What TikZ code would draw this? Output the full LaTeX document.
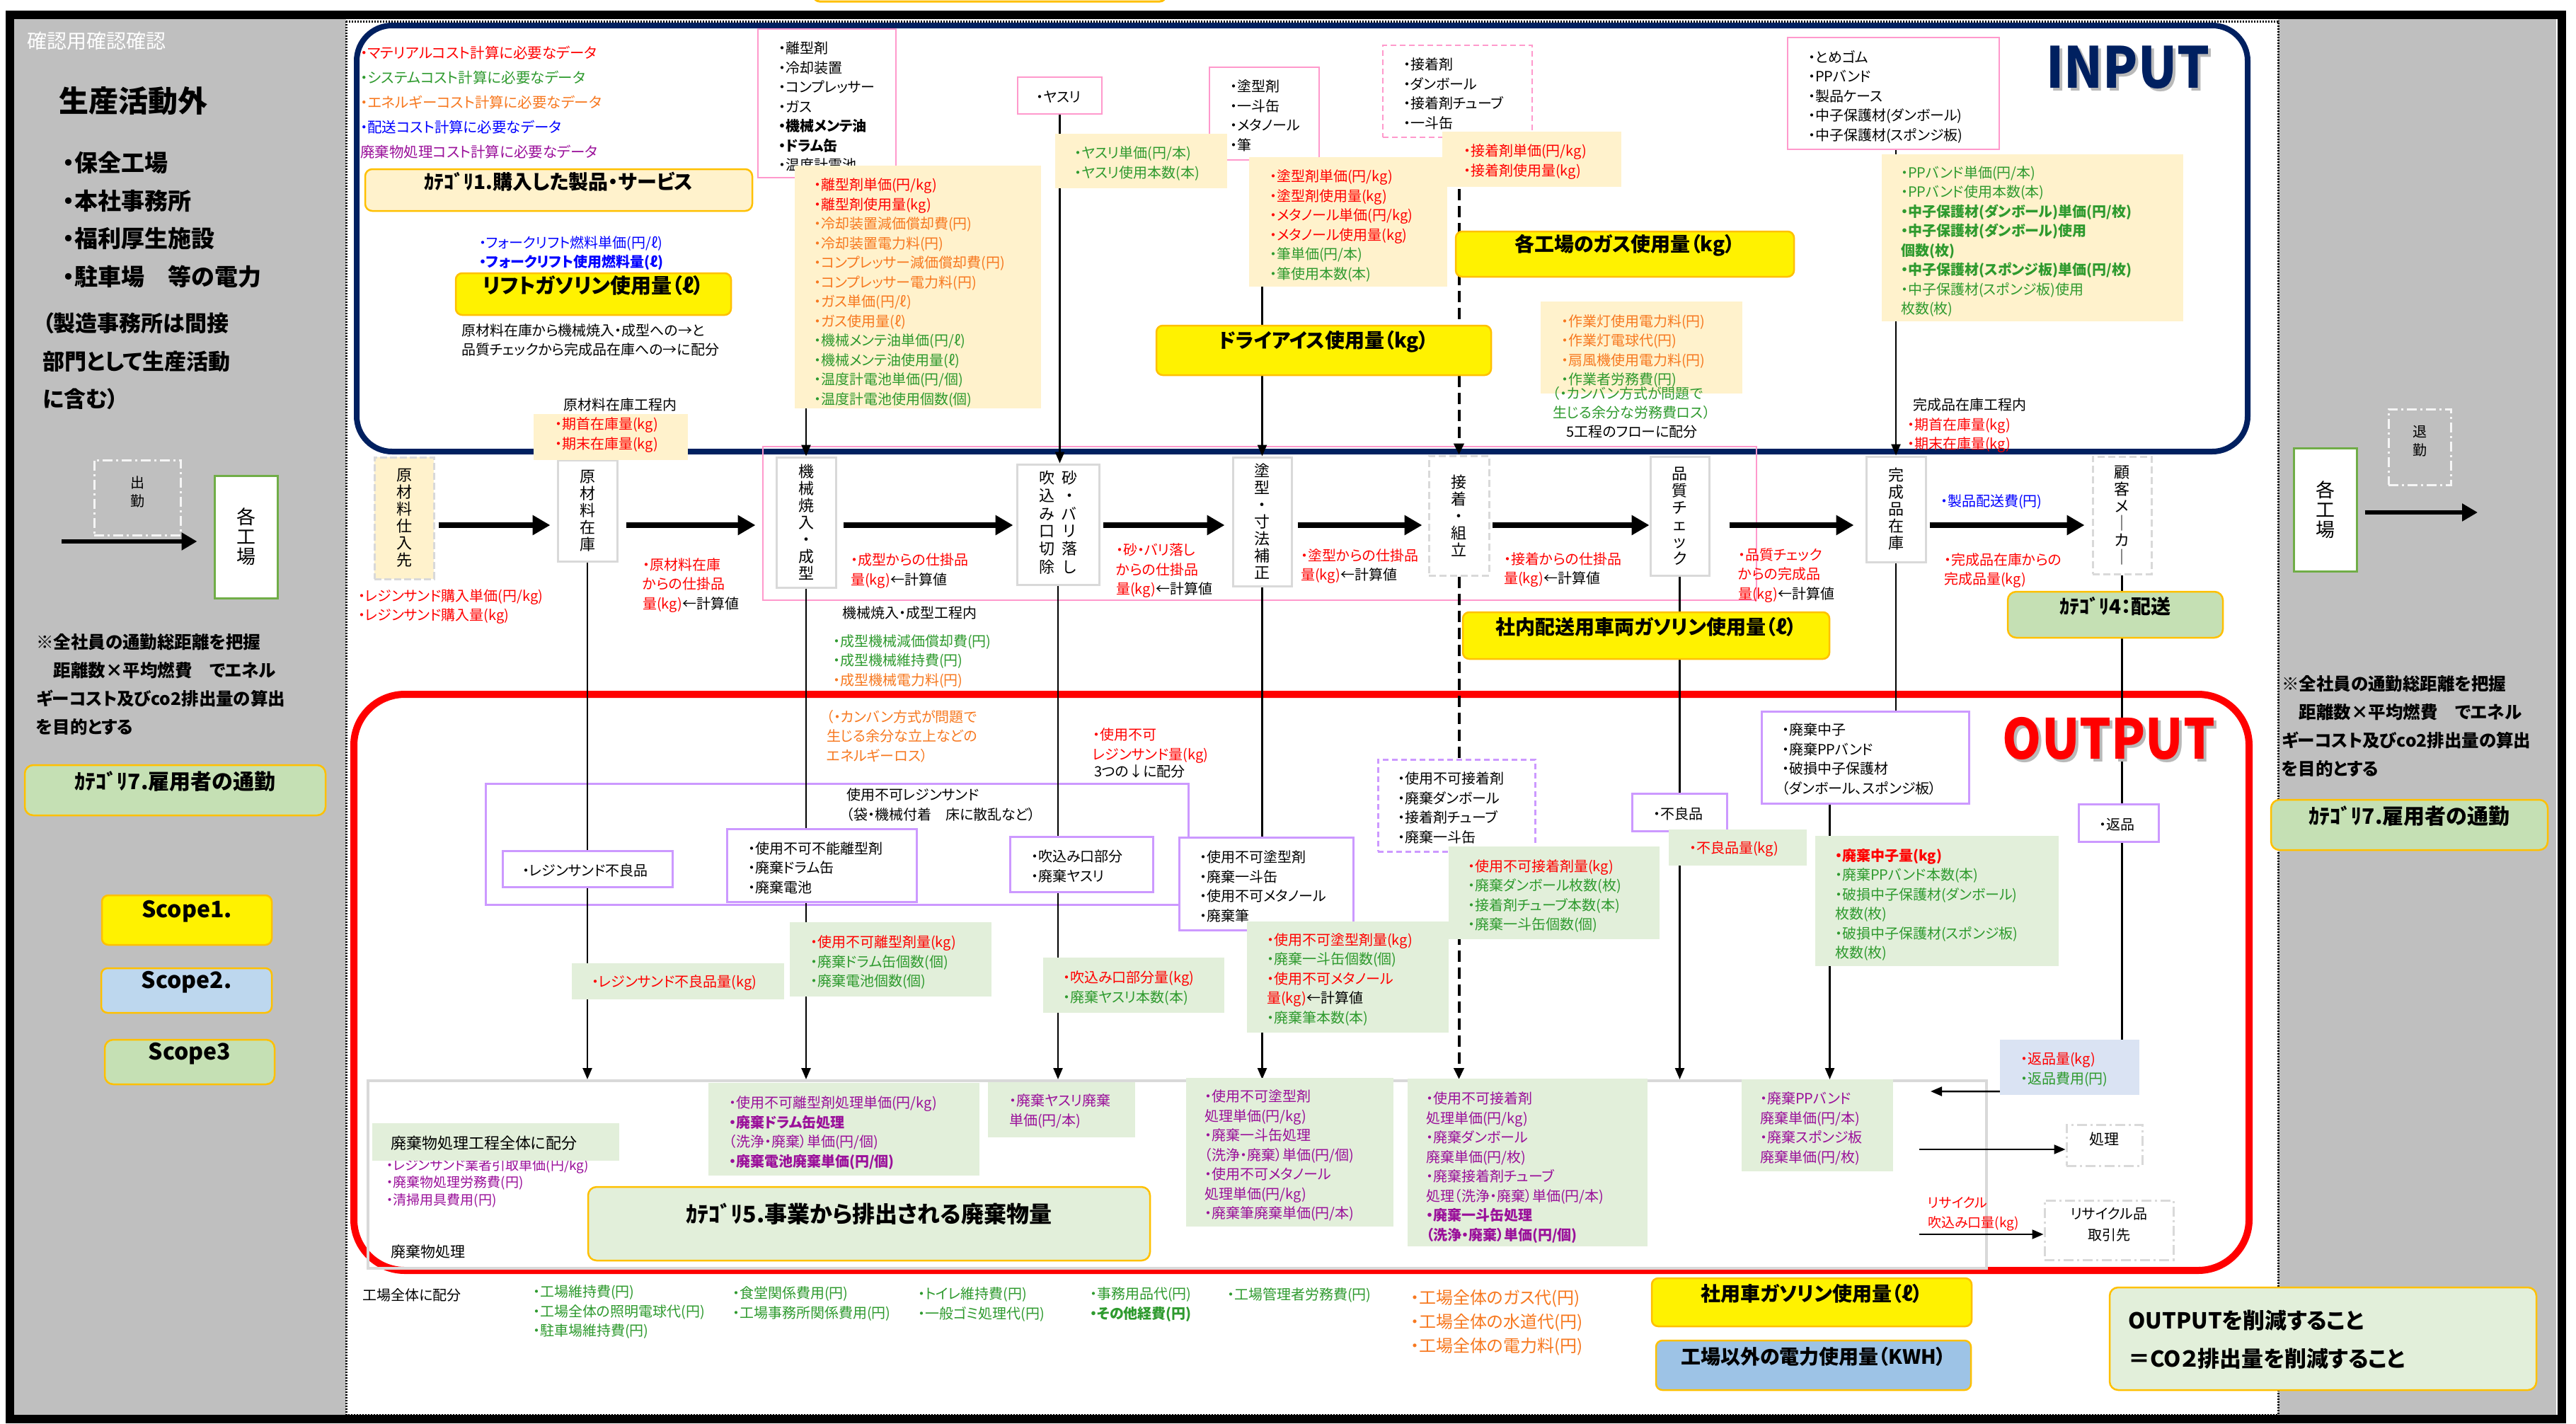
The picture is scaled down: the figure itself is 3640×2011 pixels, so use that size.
\documentclass[tikz,border=0pt]{standalone}
\usepackage{fontspec}
\setmainfont{Noto Sans CJK JP}[RawFeature=+palt]
\usetikzlibrary{arrows.meta,fit}
\definecolor{navy}{HTML}{002060}
\definecolor{panel}{HTML}{BFBFBF}
\definecolor{lyel}{HTML}{FFF2CC}
\definecolor{ybord}{HTML}{FFC000}
\definecolor{lgreen}{HTML}{E2EFDA}
\definecolor{cgreen}{HTML}{C5E0B4}
\definecolor{kgreen}{HTML}{70AD47}
\definecolor{lblue}{HTML}{BDD7EE}
\definecolor{mblue}{HTML}{9DC3E6}
\definecolor{pblue}{HTML}{DAE3F3}
\definecolor{pinkb}{HTML}{FF99CC}
\definecolor{purpb}{HTML}{CC99FF}
\definecolor{lgray}{HTML}{D9D9D9}
\definecolor{tred}{HTML}{FF0000}
\definecolor{tgreen}{HTML}{2E9A2E}
\definecolor{torange}{HTML}{F7781F}
\definecolor{tblue}{HTML}{0000FF}
\definecolor{tpurple}{HTML}{9A109A}
\newcommand\txr[1]{\textcolor{tred}{#1}}
\newcommand\txg[1]{\textcolor{tgreen}{#1}}
\newcommand\txo[1]{\textcolor{torange}{#1}}
\newcommand\txk[1]{\textcolor{black}{#1}}
\tikzset{
  txt/.style={anchor=west,inner sep=0pt,align=left,font=\fontsize{20}{27.5}\selectfont},
  ttl/.style={inner sep=0pt,align=center,font=\fontsize{28}{30}\selectfont\bfseries},
  pinkbox/.style={draw=pinkb,line width=2.5pt,fill=white,inner sep=0pt},
  databox/.style={fill=lyel,inner sep=0pt},
  greenbox/.style={fill=lgreen,inner sep=0pt},
  wastebox/.style={draw=purpb,line width=3pt,fill=white,inner sep=0pt},
  yelbox/.style={draw=ybord,line width=2.5pt,fill=yellow,rounded corners=9pt,inner sep=0pt},
  catbox/.style={draw=ybord,line width=2.5pt,fill=cgreen,rounded corners=12pt,inner sep=0pt},
  proc/.style={draw=lgray,line width=3pt,fill=white,inner sep=0pt,align=center,font=\fontsize{22}{24}\selectfont},
  ddbox/.style={draw=#1,line width=3pt,dash pattern=on 14pt off 5pt on 3pt off 5pt,inner sep=0pt},
  flowarrow/.style={line width=8pt,-{Triangle[length=25pt,width=27pt]}},
  conn/.style={line width=2.5pt},
  arr/.style={line width=2.5pt,-{Triangle[length=16pt,width=13pt]}},
  dasharr/.style={line width=4pt,dash pattern=on 16pt off 8pt,-{Triangle[length=16pt,width=14pt]}},
  dotline/.style={line width=3pt,dash pattern=on 2pt off 2pt}
}
\begin{document}
\begin{tikzpicture}[x=1pt,y=-1pt]
\useasboundingbox (0,0) rectangle (3640,2011);
\fill[white] (0,0) rectangle (3640,2011);
\draw[ybord,line width=3pt,rounded corners=8pt] (1150,-60) rectangle (1647,2);
\fill[panel] (20,26) rectangle (489,2000);
\fill[panel] (3219,26) rectangle (3612,2000);
\draw[line width=12pt] (14,21) rectangle (3620,2005);
\draw[dotline] (489,30) rectangle (3219,1999);
\draw[navy,line width=8pt,rounded corners=50pt] (504,36) rectangle (3176,638);
\draw[red,line width=10pt,rounded corners=72pt] (500,981) rectangle (3178,1795);
\draw[pinkb,line width=2.5pt] (1078,631) rectangle (2482,848);
\draw[purpb,line width=3pt] (686,1107) rectangle (1679,1278);
% left panel
\node[anchor=west,inner sep=0pt,text=white,font=\fontsize{28}{28}\selectfont] (kakunin) at (38,58) {確認用確認確認};
\node[inner sep=0pt,font=\fontsize{42}{42}\selectfont\bfseries] (gaiTitle) at (188,143) {生産活動外};
\node[txt,font=\fontsize{33}{53.7}\selectfont\bfseries] (gaiList) at (89,310.5) {・保全工場\\・本社事務所\\・福利厚生施設\\・駐車場　等の電力};
\node[txt,font=\fontsize{31}{53.5}\selectfont\bfseries] (gaiNote) at (60,510.5) {（製造事務所は間接\\部門として生産活動\\に含む）};
\node[ddbox=white!92!gray,fit={(133,650) (255,756)},align=center,font=\fontsize{20}{26}\selectfont] (shukkin) {出\\勤};
\node[draw=kgreen,line width=3pt,fill=white,inner sep=0pt,align=center,font=\fontsize{27}{28}\selectfont,minimum width=89pt,minimum height=173pt] (kakuL) at (347.5,758.5) {各\\工\\場};
\coordinate (inL) at (87,765);
\draw[line width=6pt,-{Triangle[length=22pt,width=24pt]},shorten >=23pt] (inL) -- (inL -| kakuL.west);
\node[txt,font=\fontsize{24.5}{40}\selectfont\bfseries] (commuteL) at (51,967) {※全社員の通勤総距離を把握\\　距離数×平均燃費　でエネル\\ギーコスト及びco2排出量の算出\\を目的とする};
\node[catbox,ttl,font=\fontsize{30}{32}\selectfont\bfseries,fit={(35,1081) (460,1152)}] (cat7L) {ｶﾃｺﾞﾘ7.雇用者の通勤};
\node[yelbox,ttl,font=\fontsize{32}{34}\selectfont\bfseries,fit={(144,1265) (384,1335)}] (scope1) {Scope1.};
\node[yelbox,fill=lblue,ttl,font=\fontsize{32}{34}\selectfont\bfseries,fit={(143,1368) (384,1431)}] (scope2) {Scope2.};
\node[catbox,ttl,font=\fontsize{32}{34}\selectfont\bfseries,fit={(148,1469) (388,1532)}] (scope3) {Scope3};
% right panel
\node[ddbox=white!92!gray,fit={(3375,578) (3463,685)},align=center,font=\fontsize{20}{26}\selectfont] (taikin) {退\\勤};
\node[draw=kgreen,line width=3pt,fill=white,inner sep=0pt,align=center,font=\fontsize{27}{28}\selectfont,minimum width=89pt,minimum height=174pt] (kakuR) at (3285.5,720) {各\\工\\場};
\coordinate (outR) at (3501,724);
\draw[line width=6pt,-{Triangle[length=22pt,width=24pt]}] ([xshift=10pt]kakuR.east |- outR) -- (outR);
\node[txt,font=\fontsize{24.5}{40}\selectfont\bfseries] (commuteR) at (3224,1026.5) {※全社員の通勤総距離を把握\\　距離数×平均燃費　でエネル\\ギーコスト及びco2排出量の算出\\を目的とする};
\node[catbox,ttl,font=\fontsize{30}{32}\selectfont\bfseries,fit={(3209,1130) (3600,1201)}] (cat7R) {ｶﾃｺﾞﾘ7.雇用者の通勤};
\node[catbox,fill=lgreen,fit={(2981,1819) (3584,1964)}] (goal) {};
\node[txt,font=\fontsize{31}{54}\selectfont\bfseries] (goalTxt) at (3007,1893) {OUTPUTを削減すること\\＝CO２排出量を削減すること};
% input lists
\node[pinkbox,fit={(1071,41) (1266,251)}] (rikeiList) {};
\node[txt] (rikeiItems) at (1100,150.5) {・離型剤\\・冷却装置\\・コンプレッサー\\・ガス\\\textbf{・機械メンテ油}\\\textbf{・ドラム缶}\\・温度計電池};
\node[pinkbox,fit={(1438,109) (1557,161)}] (yasuri) {};
\node[txt] (yasuriItem) at (1464,137) {・ヤスリ};
\node[pinkbox,fit={(1709,95) (1864,226)}] (tokaList) {};
\node[txt] (tokaItems) at (1738,163.5) {・塗型剤\\・一斗缶\\・メタノール\\・筆};
\node[pinkbox,dash pattern=on 8pt off 5pt,fit={(1954,64) (2165,194)}] (setList) {};
\node[txt] (setItems) at (1983,132.5) {・接着剤\\・ダンボール\\・接着剤チューブ\\・一斗缶};
\node[pinkbox,fit={(2526,53) (2825,211)}] (kanList) {};
\node[txt] (kanItems) at (2555,136.5) {・とめゴム\\・PPバンド\\・製品ケース\\・中子保護材(ダンボール)\\・中子保護材(スポンジ板)};
% process row
\node[proc,fill=lyel,dash pattern=on 10pt off 4pt,minimum width=84pt,minimum height=172pt] (siire) at (571,732) {原\\材\\料\\仕\\入\\先};
\node[proc,minimum width=84pt,minimum height=143pt] (zaiko) at (830,721.5) {原\\材\\料\\在\\庫};
\node[proc,minimum width=84pt,minimum height=184pt] (kikai) at (1139,738) {機\\械\\焼\\入\\・\\成\\型};
\node[proc,minimum width=116pt,minimum height=170pt] (suna) at (1495,741) {\begin{tabular}{@{}c@{\hspace{10pt}}c@{}}吹&砂\\込&・\\み&バ\\口&リ\\切&落\\除&し\end{tabular}};
\node[proc,minimum width=83pt,minimum height=182pt] (toka) at (1783.5,737) {塗\\型\\・\\寸\\法\\補\\正};
\node[proc,dash pattern=on 10pt off 5pt,minimum width=85pt,minimum height=169pt] (setchaku) at (2061.5,728.5) {接\\着\\・\\組\\立};
\node[proc,minimum width=83pt,minimum height=168pt] (hinshitsu) at (2373.5,729) {品\\質\\チ\\ェ\\ッ\\ク};
\node[proc,minimum width=84pt,minimum height=149pt] (kansei) at (2679,719.5) {完\\成\\品\\在\\庫};
\node[proc,dash pattern=on 10pt off 5pt,minimum width=83pt,minimum height=166pt] (kokyaku) at (2998.5,728) {顧\\客\\メ\\｜\\カ\\｜};
\coordinate (row) at (0,742);
\draw[flowarrow] ([xshift=5pt]siire.east |- row) -- ([xshift=-9pt]zaiko.west |- row);
\draw[flowarrow] ([xshift=11pt]zaiko.east |- row) -- ([xshift=-28pt]kikai.west |- row);
\draw[flowarrow] ([xshift=9pt]kikai.east |- row) -- ([xshift=-4pt]suna.west |- row);
\draw[flowarrow] ([xshift=4pt]suna.east |- row) -- ([xshift=-10pt]toka.west |- row);
\draw[flowarrow] ([xshift=7pt]toka.east |- row) -- ([xshift=-8pt]setchaku.west |- row);
\draw[flowarrow] ([xshift=3pt]setchaku.east |- row) -- (hinshitsu.west |- row);
\draw[flowarrow] ([xshift=27pt]hinshitsu.east |- row) -- ([xshift=-16pt]kansei.west |- row);
\draw[flowarrow] ([xshift=4pt]kansei.east |- row) -- ([xshift=-10pt]kokyaku.west |- row);
\node[draw=lgray,line width=4pt,inner sep=0pt,fit={(520,1527) (2807,1792)}] (waste) {};
\node[wastebox,fit={(2489,1005) (2782,1135)}] (wNakago) {};
\node[fill=pblue,inner sep=0pt,fit={(2826,1469) (3023,1547)}] (bHenpin) {};
% connectors
\draw[arr] (rikeiList.south -| kikai.north) -- (kikai.north);
\draw[arr] (yasuri.south) -- (yasuri.south |- suna.north);
\draw[arr] (tokaList.south -| toka.north) -- (toka.north);
\draw[dasharr] (setList.south -| setchaku.north) -- (setchaku.north);
\draw[arr] (kanList.south -| kansei.north) -- (kansei.north);
\draw[arr] (zaiko.south) -- (zaiko.south |- waste.north);
\draw[arr] (kikai.south) -- (kikai.south |- waste.north);
\draw[arr] (suna.south) -- (suna.south |- waste.north);
\draw[arr] (toka.south) -- (toka.south |- waste.north);
\draw[dasharr] (setchaku.south) -- (setchaku.south |- waste.north);
\draw[arr] (hinshitsu.south) -- (hinshitsu.south |- waste.north);
\draw[conn] (kansei.south) -- (kansei.south |- wNakago.north);
\draw[arr] ([xshift=-50pt]wNakago.south) -- ([xshift=-50pt]wNakago.south |- waste.north);
\draw[conn] (kokyaku.south) -- (kokyaku.south |- bHenpin.north);
\coordinate (henpinEnd) at (2728,1542);
\draw[arr] ([yshift=5pt]bHenpin.south west) -- (henpinEnd);
% input data
\node[txt,font=\fontsize{20.5}{35}\selectfont] (legend) at (509,145) {\txr{・マテリアルコスト計算に必要なデータ}\\\txg{・システムコスト計算に必要なデータ}\\\txo{・エネルギーコスト計算に必要なデータ}\\\textcolor{tblue}{・配送コスト計算に必要なデータ}\\\textcolor{tpurple}{廃棄物処理コスト計算に必要なデータ}};
\node[databox,draw=ybord,line width=2.5pt,rounded corners=10pt,ttl,fit={(516,239) (1063,298)}] (cat1) {ｶﾃｺﾞﾘ1.購入した製品・サービス};
\node[txt,text=tblue] (fork) at (677,357.5) {・フォークリフト燃料単価(円/ℓ)\\\textbf{・フォークリフト使用燃料量(ℓ)}};
\node[yelbox,ttl,font=\fontsize{29}{30}\selectfont\bfseries,fit={(644,386) (1033,445)}] (lift) {リフトガソリン使用量（ℓ）};
\node[txt] (liftNote) at (652,480.5) {原材料在庫から機械焼入・成型への→と\\品質チェックから完成品在庫への→に配分};
\node[databox,fit={(754,585) (972,650)}] (zaikoData) {};
\node[txt] (zaikoHead) at (796,572) {原材料在庫工程内};
\node[txt,text=tred] (zaikoTxt) at (784,614.5) {・期首在庫量(kg)\\・期末在庫量(kg)};
\node[databox,fit={(1123,234) (1471,577)}] (rikeiData) {};
\node[txt] (rikeiTxt) at (1150,413.5) {\txr{・離型剤単価(円/kg)}\\\txr{・離型剤使用量(kg)}\\\txo{・冷却装置減価償却費(円)}\\\txo{・冷却装置電力料(円)}\\\txo{・コンプレッサー減価償却費(円)}\\\txo{・コンプレッサー電力料(円)}\\\txo{・ガス単価(円/ℓ)}\\\txo{・ガス使用量(ℓ)}\\\txg{・機械メンテ油単価(円/ℓ)}\\\txg{・機械メンテ油使用量(ℓ)}\\\txg{・温度計電池単価(円/個)}\\\txg{・温度計電池使用個数(個)}};
\node[databox,fit={(1491,189) (1734,266)}] (yasuriData) {};
\node[txt,text=tgreen] (yasuriTxt) at (1518,231) {・ヤスリ単価(円/本)\\・ヤスリ使用本数(本)};
\node[databox,fit={(1765,222) (2045,405)}] (tokaData) {};
\node[txt] (tokaTxt) at (1794,319) {\txr{・塗型剤単価(円/kg)}\\\txr{・塗型剤使用量(kg)}\\\txr{・メタノール単価(円/kg)}\\\txr{・メタノール使用量(kg)}\\\txg{・筆単価(円/本)}\\\txg{・筆使用本数(本)}};
\node[databox,fit={(2038,186) (2291,264)}] (setData) {};
\node[txt,text=tred] (setTxt) at (2068,228.5) {・接着剤単価(円/kg)\\・接着剤使用量(kg)};
\node[yelbox,ttl,fit={(2057,327) (2535,391)}] (gas) {各工場のガス使用量（kg）};
\node[yelbox,ttl,fit={(1634,460) (2107,530)}] (dry) {ドライアイス使用量（kg）};
\node[databox,fit={(2177,426) (2462,556)}] (sagyoData) {};
\node[txt] (sagyoTxt) at (2206,496) {\txo{・作業灯使用電力料(円)}\\\txo{・作業灯電球代(円)}\\\txo{・扇風機使用電力料(円)}\\\txg{・作業者労務費(円)}};
\node[txt,text=tgreen] (kanban1) at (2194,569.5) {（・カンバン方式が問題で\\生じる余分な労務費ロス）};
\node[txt] (flowNote) at (2213,610) {5工程のフローに配分};
\node[databox,fit={(2659,218) (3085,454)}] (kanData) {};
\node[txt,text=tgreen] (kanTxt) at (2686,341) {・PPバンド単価(円/本)\\・PPバンド使用本数(本)\\\textbf{・中子保護材(ダンボール)単価(円/枚)}\\\textbf{・中子保護材(ダンボール)使用}\\\textbf{個数(枚)}\\\textbf{・中子保護材(スポンジ板)単価(円/枚)}\\・中子保護材(スポンジ板)使用\\枚数(枚)};
\node[txt] (kanHead) at (2703,572) {完成品在庫工程内};
\node[txt,text=tred] (kanStock) at (2695,615) {・期首在庫量(kg)\\・期末在庫量(kg)};
\node[inner sep=0pt,text=gray!55,font=\fontsize{80}{80}\selectfont\bfseries] (inShadow) at (3011,99) {\scalebox{0.9}[1]{INPUT}};
\node[inner sep=0pt,text=navy,font=\fontsize{80}{80}\selectfont\bfseries] (inTitle) at (3007,95) {\scalebox{0.9}[1]{INPUT}};
% flow texts
\node[txt,text=tred] (resinBuy) at (506,857) {・レジンサンド購入単価(円/kg)\\・レジンサンド購入量(kg)};
\node[txt,text=tred] (wip1) at (908,827) {・原材料在庫\\からの仕掛品\\量(kg)\txk{←計算値}};
\node[txt,text=tred] (wip2) at (1202,806.5) {・成型からの仕掛品\\量(kg)\txk{←計算値}};
\node[txt] (kikaiHead) at (1190,866) {機械焼入・成型工程内};
\node[txt] (kikaiCost) at (1177,934.5) {\txg{・成型機械減価償却費(円)}\\\txg{・成型機械維持費(円)}\\\txo{・成型機械電力料(円)}};
\node[txt,text=tred] (wip3) at (1577,806.5) {・砂・バリ落し\\からの仕掛品\\量(kg)\txk{←計算値}};
\node[txt,text=tred] (wip4) at (1838,800) {・塗型からの仕掛品\\量(kg)\txk{←計算値}};
\node[txt,text=tred] (wip5) at (2125,805) {・接着からの仕掛品\\量(kg)\txk{←計算値}};
\node[txt,text=tred] (wip6) at (2456,813) {・品質チェック\\からの完成品\\量(kg)\txk{←計算値}};
\node[txt,text=tblue] (deliv) at (2742,709) {・製品配送費(円)};
\node[txt,text=tred] (wip7) at (2747,806) {・完成品在庫からの\\完成品量(kg)};
\node[yelbox,ttl,fit={(2067,865) (2585,931)}] (haiso) {社内配送用車両ガソリン使用量（ℓ）};
\node[catbox,ttl,fit={(2837,836) (3141,901)}] (cat4) {ｶﾃｺﾞﾘ4：配送};
% output
\node[txt,text=torange] (kanban2) at (1168,1040) {（・カンバン方式が問題で\\生じる余分な立上などの\\エネルギーロス）};
\node[txt,text=tred] (unusable) at (1544,1053.5) {・使用不可\\レジンサンド量(kg)};
\node[txt] (split3) at (1546,1090) {3つの↓に配分};
\node[txt] (resinHead) at (1196,1137) {使用不可レジンサンド\\（袋・機械付着　床に散乱など）};
\node[wastebox,fit={(710,1202) (950,1253)}] (wResin) {};
\node[txt] (wResinTxt) at (738,1230) {・レジンサンド不良品};
\node[wastebox,fit={(1027,1171) (1295,1274)}] (wRikei) {};
\node[txt] (wRikeiTxt) at (1057,1226) {・使用不可不能離型剤\\・廃棄ドラム缶\\・廃棄電池};
\node[wastebox,fit={(1427,1182) (1629,1260)}] (wFuki) {};
\node[txt] (wFukiTxt) at (1457,1224) {・吹込み口部分\\・廃棄ヤスリ};
\node[wastebox,fit={(1666,1183) (1912,1314)}] (wToka) {};
\node[txt] (wTokaTxt) at (1695,1252.5) {・使用不可塗型剤\\・廃棄一斗缶\\・使用不可メタノール\\・廃棄筆};
\node[wastebox,dash pattern=on 8pt off 5pt,fit={(1947,1073) (2169,1203)}] (wSet) {};
\node[txt] (wSetTxt) at (1975,1141.5) {・使用不可接着剤\\・廃棄ダンボール\\・接着剤チューブ\\・廃棄一斗缶};
\node[wastebox,fit={(2306,1121) (2440,1174)}] (wFuryo) {};
\node[txt] (wFuryoTxt) at (2336,1150) {・不良品};
\node[txt] (wNakagoTxt) at (2518,1072.5) {・廃棄中子\\・廃棄PPバンド\\・破損中子保護材\\（ダンボール、スポンジ板）};
\node[wastebox,fit={(2937,1136) (3050,1189)}] (wHenpin) {};
\node[txt] (wHenpinTxt) at (2966,1165) {・返品};
\node[greenbox,fit={(808,1361) (1108,1412)}] (gResin) {};
\node[txt,text=tred] (gResinTxt) at (836,1389) {・レジンサンド不良品量(kg)};
\node[greenbox,fit={(1116,1303) (1401,1408)}] (gRikei) {};
\node[txt,text=tgreen] (gRikeiTxt) at (1145,1360) {\txr{・使用不可離型剤量(kg)}\\・廃棄ドラム缶個数(個)\\・廃棄電池個数(個)};
\node[greenbox,fit={(1474,1353) (1730,1431)}] (gFuki) {};
\node[txt,text=tgreen] (gFukiTxt) at (1502,1396) {\txr{・吹込み口部分量(kg)}\\・廃棄ヤスリ本数(本)};
\node[greenbox,fit={(1762,1302) (2047,1459)}] (gToka) {};
\node[txt,text=tred] (gTokaTxt) at (1790,1384) {・使用不可塗型剤量(kg)\\\txg{・廃棄一斗缶個数(個)}\\・使用不可メタノール\\量(kg)\txk{←計算値}\\\txg{・廃棄筆本数(本)}};
\node[greenbox,fit={(2047,1196) (2345,1327)}] (gSet) {};
\node[txt,text=tgreen] (gSetTxt) at (2074,1266) {\txr{・使用不可接着剤量(kg)}\\・廃棄ダンボール枚数(枚)\\・接着剤チューブ本数(本)\\・廃棄一斗缶個数(個)};
\node[greenbox,fit={(2358,1172) (2553,1223)}] (gFuryo) {};
\node[txt,text=tred] (gFuryoTxt) at (2387,1200) {・不良品量(kg)};
\node[greenbox,fit={(2565,1181) (2909,1365)}] (gNakago) {};
\node[txt,text=tgreen] (gNakagoTxt) at (2593,1278.5) {\txr{\textbf{・廃棄中子量(kg)}}\\・廃棄PPバンド本数(本)\\・破損中子保護材(ダンボール)\\枚数(枚)\\・破損中子保護材(スポンジ板)\\枚数(枚)};
\node[txt,text=tgreen] (bHenpinTxt) at (2855,1511.5) {\txr{・返品量(kg)}\\・返品費用(円)};
\node[inner sep=0pt,text=gray!55,font=\fontsize{78}{78}\selectfont\bfseries] (outShadow) at (2984,1047) {\scalebox{0.9}[1]{OUTPUT}};
\node[inner sep=0pt,text=red,font=\fontsize{78}{78}\selectfont\bfseries] (outTitle) at (2980,1043) {\scalebox{0.9}[1]{OUTPUT}};
% waste treatment
\node[txt,text=tpurple,font=\fontsize{19}{24.5}\selectfont] (wasteCost) at (546,1671.5) {・レジンサンド業者引取単価(円/kg)\\・廃棄物処理労務費(円)\\・清掃用具費用(円)};
\node[greenbox,fit={(526,1587) (875,1640)}] (gHaiki) {};
\node[txt,font=\fontsize{22}{24}\selectfont] (gHaikiTxt) at (552,1615) {廃棄物処理工程全体に配分};
\node[txt,font=\fontsize{21}{24}\selectfont] (wasteLabel) at (552,1769) {廃棄物処理};
\node[greenbox,fit={(1001,1530) (1384,1661)}] (gRikeiP) {};
\node[txt,text=tpurple] (gRikeiPTxt) at (1030,1600.5) {・使用不可離型剤処理単価(円/kg)\\\textbf{・廃棄ドラム缶処理}\\（洗浄・廃棄）単価(円/個)\\\textbf{・廃棄電池廃棄単価(円/個)}};
\node[greenbox,fit={(1396,1529) (1604,1607)}] (gYasuri) {};
\node[txt,text=tpurple] (gYasuriTxt) at (1426,1570) {・廃棄ヤスリ廃棄\\単価(円/本)};
\node[greenbox,fit={(1676,1523) (1969,1733)}] (gTokaP) {};
\node[txt,text=tpurple] (gTokaPTxt) at (1702,1633) {・使用不可塗型剤\\処理単価(円/kg)\\・廃棄一斗缶処理\\（洗浄・廃棄）単価(円/個)\\・使用不可メタノール\\処理単価(円/kg)\\・廃棄筆廃棄単価(円/本)};
\node[greenbox,fit={(1989,1524) (2328,1761)}] (gSetP) {};
\node[txt,text=tpurple] (gSetPTxt) at (2015,1649.5) {・使用不可接着剤\\処理単価(円/kg)\\・廃棄ダンボール\\廃棄単価(円/枚)\\・廃棄接着剤チューブ\\処理（洗浄・廃棄）単価(円/本)\\\textbf{・廃棄一斗缶処理}\\\textbf{（洗浄・廃棄）単価(円/個)}};
\node[greenbox,fit={(2461,1525) (2675,1655)}] (gPP) {};
\node[txt,text=tpurple] (gPPTxt) at (2487,1594.5) {・廃棄PPバンド\\廃棄単価(円/本)\\・廃棄スポンジ板\\廃棄単価(円/枚)};
\node[catbox,fill=lgreen,ttl,font=\fontsize{32}{34}\selectfont\bfseries,fit={(831,1677) (1625,1781)}] (cat5) {ｶﾃｺﾞﾘ5.事業から排出される廃棄物量};
\node[ddbox=lgray,fit={(2920,1589) (3027,1647)},font=\fontsize{21}{24}\selectfont] (shori) {処理};
\node[ddbox=lgray,fit={(2889,1696) (3071,1780)},align=center,font=\fontsize{20}{30}\selectfont] (recycle) {リサイクル品\\取引先};
\coordinate (shoriFrom) at (2712,1624);
\draw[arr] (shoriFrom) -- (shoriFrom -| shori.west);
\coordinate (recFrom) at (2712,1744);
\draw[arr] (recFrom) -- (recFrom -| recycle.west);
\node[txt,text=tred,font=\fontsize{19}{28}\selectfont] (recTxt) at (2724,1715) {リサイクル\\吹込み口量(kg)};
% bottom
\node[txt] (allocAll) at (512,1830) {工場全体に配分};
\node[txt,text=tgreen] (fix1) at (753,1854) {・工場維持費(円)\\・工場全体の照明電球代(円)\\・駐車場維持費(円)};
\node[txt,text=tgreen] (fix2) at (1035,1842) {・食堂関係費用(円)\\・工場事務所関係費用(円)};
\node[txt,text=tgreen] (fix3) at (1297,1843) {・トイレ維持費(円)\\・一般ゴミ処理代(円)};
\node[txt,text=tgreen] (fix4) at (1540,1843) {・事務用品代(円)\\\textbf{・その他経費(円)}};
\node[txt,text=tgreen] (fix5) at (1734,1830) {・工場管理者労務費(円)};
\node[txt,text=torange,font=\fontsize{24}{34}\selectfont] (fix6) at (1993,1869) {・工場全体のガス代(円)\\・工場全体の水道代(円)\\・工場全体の電力料(円)};
\node[yelbox,ttl,fit={(2334,1806) (2786,1874)}] (shayo) {社用車ガソリン使用量（ℓ）};
\node[yelbox,fill=mblue,ttl,fit={(2340,1894) (2785,1964)}] (denki) {工場以外の電力使用量（KWH）};
\end{tikzpicture}
\end{document}
